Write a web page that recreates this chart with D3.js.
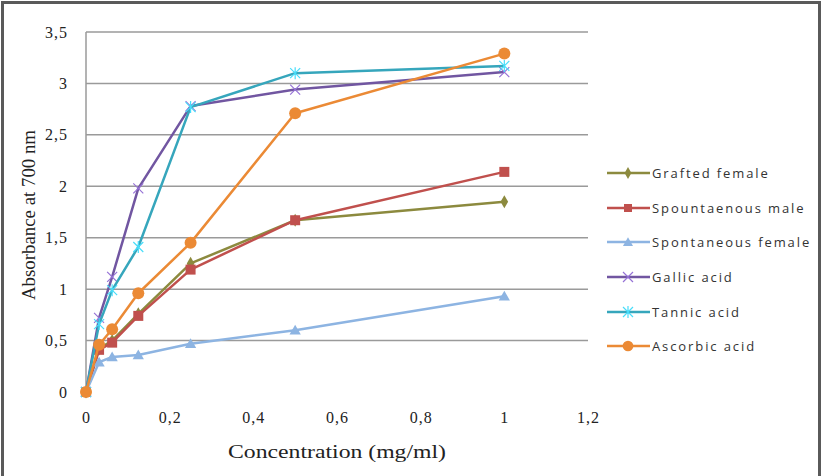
<!DOCTYPE html>
<html>
<head>
<meta charset="utf-8">
<script src="https://cdn.jsdelivr.net/npm/d3@7"></script>
<style>
  body { margin: 0; background: #fff; }
  svg { display: block; }
</style>
</head>
<body>
<div id="chart"></div>
<script>
// concentrations (mg/ml)
var conc = [0, 0.03125, 0.0625, 0.125, 0.25, 0.5, 1];

var seriesNames = ['Grafted female', 'Spountaenous male', 'Spontaneous female',
                   'Gallic acid', 'Tannic acid', 'Ascorbic acid'];
var seriesColors = ['#8C8A3E', '#C0504D', '#8DB4E2', '#7156A1', '#36A6BC', '#EB8A35'];
var seriesMarkers = ['diamond', 'square', 'triangle', 'cross', 'star', 'circle'];

var graftedFemale = [0, 0.42, 0.5, 0.76, 1.25, 1.67, 1.85];
var spontMale = [0, 0.41, 0.48, 0.74, 1.19, 1.67, 2.14];
var spontFemale = [0, 0.29, 0.34, 0.36, 0.47, 0.6, 0.93];
var gallic = [0, 0.72, 1.12, 1.98, 2.78, 2.94, 3.11];
var tannic = [0, 0.66, 0.99, 1.41, 2.77, 3.1, 3.17];
var ascorbic = [0, 0.46, 0.61, 0.96, 1.45, 2.71, 3.29];

var yTicks = [0, 0.5, 1, 1.5, 2, 2.5, 3, 3.5];
var xTicks = [0, 0.2, 0.4, 0.6, 0.8, 1, 1.2];

var allSeries = [graftedFemale, spontMale, spontFemale, gallic, tannic, ascorbic];

var W = 826, H = 476;
var svg = d3.select('#chart').append('svg').attr('width', W).attr('height', H);

// outer frame (bottom edge is cut off in the original)
svg.append('path')
  .attr('d', 'M2.5,' + H + 'V2.5H819.5V' + H)
  .attr('fill', 'none').attr('stroke', '#5a5a5a').attr('stroke-width', 3);

var x = d3.scaleLinear().domain([0, 1.2]).range([86, 588]);
var y = d3.scaleLinear().domain([0, 3.5]).range([392, 32]);

var fmt = function (d) { return String(d).replace('.', ','); };

// gridlines
svg.append('g').selectAll('line')
  .data(yTicks.filter(function (d) { return d > 0; }))
  .enter().append('line')
  .attr('x1', x(0)).attr('x2', x(1.2))
  .attr('y1', function (d) { return y(d); }).attr('y2', function (d) { return y(d); })
  .attr('stroke', '#9a9a9a').attr('stroke-width', 1.5);

svg.append('line')
  .attr('x1', x(0)).attr('x2', x(0)).attr('y1', y(0)).attr('y2', y(3.5))
  .attr('stroke', '#9a9a9a').attr('stroke-width', 1.5);

// y tick labels
var yAxis = d3.axisLeft(y).tickValues(yTicks).tickFormat(fmt).tickSize(0).tickPadding(18);
var gy = svg.append('g').attr('transform', 'translate(' + x(0) + ',0)').call(yAxis);
gy.select('.domain').remove();
gy.selectAll('text').style('font-family', 'Liberation Serif, serif').style('font-size', '16px')
  .style('letter-spacing', '1px').attr('fill', '#222');

// x tick labels
var xAxis = d3.axisBottom(x).tickValues(xTicks).tickFormat(fmt).tickSize(0).tickPadding(20);
var gx = svg.append('g').attr('transform', 'translate(0,' + y(0) + ')').call(xAxis);
gx.select('.domain').remove();
gx.selectAll('text').style('font-family', 'Liberation Serif, serif').style('font-size', '16px')
  .style('letter-spacing', '1px').attr('fill', '#222');

// axis titles (glyphs are stretched wide in the original)
svg.append('text')
  .attr('x', 337).attr('y', 458)
  .attr('text-anchor', 'middle')
  .attr('textLength', 218).attr('lengthAdjust', 'spacingAndGlyphs')
  .style('font-family', 'Liberation Serif, serif').style('font-size', '18px')
  .attr('fill', '#222')
  .text('Concentration  (mg/ml)');

svg.append('text')
  .attr('transform', 'translate(35,215) rotate(-90)')
  .attr('text-anchor', 'middle')
  .attr('textLength', 170).attr('lengthAdjust', 'spacingAndGlyphs')
  .style('font-family', 'Liberation Serif, serif').style('font-size', '18px')
  .attr('fill', '#222')
  .text('Absorbance at 700 nm');

// marker drawing
function drawMarker(g, type, color, cx, cy, scale) {
  scale = scale || 1;
  if (type === 'diamond') {
    g.append('path').attr('d', d3.symbol(d3.symbolDiamond, 50 * scale)())
      .attr('transform', 'translate(' + cx + ',' + cy + ')').attr('fill', color);
  } else if (type === 'square') {
    var s = 10 * scale;
    g.append('rect').attr('x', cx - s / 2).attr('y', cy - s / 2).attr('width', s).attr('height', s).attr('fill', color);
  } else if (type === 'triangle') {
    g.append('path').attr('d', d3.symbol(d3.symbolTriangle, 55 * scale)())
      .attr('transform', 'translate(' + cx + ',' + (cy + 1) + ')').attr('fill', color);
  } else if (type === 'circle') {
    g.append('circle').attr('cx', cx).attr('cy', cy).attr('r', 6 * Math.sqrt(scale)).attr('fill', color);
  } else {
    var r = 5;
    var p = 'M' + (cx - r) + ',' + (cy - r) + 'L' + (cx + r) + ',' + (cy + r) +
            'M' + (cx - r) + ',' + (cy + r) + 'L' + (cx + r) + ',' + (cy - r);
    if (type === 'star') p += 'M' + cx + ',' + (cy - r - 1) + 'L' + cx + ',' + (cy + r + 1);
    g.append('path').attr('d', p).attr('stroke', d3.color(color).brighter(0.8)).attr('stroke-width', 1.2).attr('fill', 'none');
  }
}

var line = d3.line()
  .x(function (d) { return x(d[0]); })
  .y(function (d) { return y(d[1]); });

allSeries.forEach(function (vals, i) {
  var pts = conc.map(function (c, j) { return [c, vals[j]]; });
  var g = svg.append('g');
  g.append('path').datum(pts).attr('d', line)
    .attr('fill', 'none').attr('stroke', seriesColors[i]).attr('stroke-width', 2.5)
    .attr('stroke-linejoin', 'round');
  pts.forEach(function (p) {
    drawMarker(g, seriesMarkers[i], seriesColors[i], x(p[0]), y(p[1]));
  });
});

// legend
var legY = [173, 208, 242, 277, 312, 346];
seriesNames.forEach(function (name, i) {
  var g = svg.append('g');
  g.append('line').attr('x1', 607).attr('x2', 650).attr('y1', legY[i]).attr('y2', legY[i])
    .attr('stroke', seriesColors[i]).attr('stroke-width', 2.5);
  drawMarker(g, seriesMarkers[i], seriesColors[i], 628, legY[i], 0.8);
  g.append('text').attr('x', 652).attr('y', legY[i] + 5)
    .style('font-family', 'Open Sans, sans-serif').style('font-size', '13px')
    .style('letter-spacing', '1.9px')
    .attr('fill', '#333')
    .text(name);
});
</script>
</body>
</html>
